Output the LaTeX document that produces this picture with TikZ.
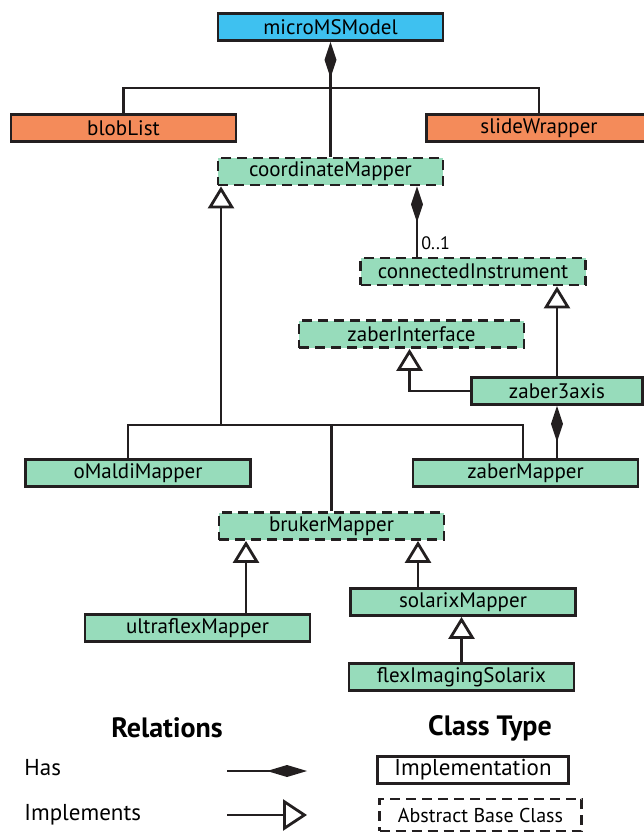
\documentclass[tikz,border=0pt]{standalone}
\usepackage{fontspec}
\setmainfont{PT Sans}
\usetikzlibrary{arrows.meta,calc}
\definecolor{modelblue}{HTML}{3EC1F0}
\definecolor{holderorange}{HTML}{F48B5A}
\definecolor{mapgreen}{HTML}{97DCBB}
\definecolor{inkblack}{HTML}{231F20}
\begin{document}
\begin{tikzpicture}[x=1pt,y=-1pt,line width=2.8pt,draw=inkblack,
	cls/.style={draw,fill=mapgreen,minimum width=225pt,minimum height=27pt,inner sep=0pt,font=\fontsize{21}{22}\selectfont},
	abc/.style={cls,dash pattern=on 10pt off 6pt},
	has/.style={-{Diamond[length=36pt,width=12pt]}},
	impl/.style={-{Triangle[open,length=22pt,width=26pt]}},
	head/.style={font=\fontsize{28}{30}\selectfont\bfseries},
	legtext/.style={font=\fontsize{23}{24}\selectfont,anchor=west,inner sep=0pt}]
\useasboundingbox (0,0) rectangle (643,835);
\node [cls,fill=modelblue] (microMSModel) at (330.5,27) {microMSModel};
\node [cls,fill=holderorange] (blobList) at (123.5,128) {blobList};
\node [cls,fill=holderorange] (slideWrapper) at (539,128) {slideWrapper};
\node [abc] (coordinateMapper) at (330.5,171.5) {coordinateMapper};
\node [abc] (connectedInstrument) at (473,271.5) {connectedInstrument};
\node [abc] (zaberInterface) at (411.5,334) {zaberInterface};
\node [cls,minimum width=171pt] (zaber3axis) at (557,391) {zaber3axis};
\node [cls] (oMaldiMapper) at (138,473) {oMaldiMapper};
\node [cls] (zaberMapper) at (525.5,473) {zaberMapper};
\node [abc] (brukerMapper) at (331.5,526) {brukerMapper};
\node [cls] (ultraflexMapper) at (197.5,628) {ultraflexMapper};
\node [cls] (solarixMapper) at (463,602) {solarixMapper};
\node [cls] (flexImagingSolarix) at (461.5,677) {flexImagingSolarix};
\coordinate (hasJoin) at (330.5,88);
\coordinate (implJoin) at (221,425);
\draw [has] (coordinateMapper) -- (microMSModel) ;
\draw (blobList.north) |- (hasJoin) -| (slideWrapper.north) ;
\draw [has] ([xshift=-56pt]connectedInstrument.north) -- ([xshift=-56pt]connectedInstrument.north |- coordinateMapper.south)
	node [pos=0.19,anchor=west,inner sep=3pt,font=\fontsize{18}{20}\selectfont] {0..1} ;
\draw [impl] (implJoin) -- (implJoin |- coordinateMapper.south) ;
\draw ([xshift=-10pt]oMaldiMapper.north) |- (implJoin) -| ([xshift=-2.5pt]zaberMapper.north) ;
\draw (brukerMapper.north) -- (brukerMapper.north |- implJoin) ;
\draw [impl] (zaber3axis.north) -- (zaber3axis.north |- connectedInstrument.south) ;
\draw [impl] (zaber3axis.west) -| ([xshift=-2pt]zaberInterface.south) ;
\draw [has] (zaber3axis.south |- zaberMapper.north) -- (zaber3axis.south) ;
\draw [impl] ([xshift=48.5pt]ultraflexMapper.north) -- ([xshift=48.5pt]ultraflexMapper.north |- brukerMapper.south) ;
\draw [impl] ([xshift=-45pt]solarixMapper.north) -- ([xshift=-45pt]solarixMapper.north |- brukerMapper.south) ;
\draw [impl] (flexImagingSolarix.north) -- (flexImagingSolarix.north |- solarixMapper.south) ;
% legend
\node [head] (relations) at (167,728) {Relations};
\node [head] (classType) at (490,728) {Class Type};
\node [legtext] (hasText) at (23,768) {Has};
\node [legtext] (implText) at (23,815) {Implements};
\coordinate (hasFrom) at (227,771);
\coordinate (hasTo) at (307,771);
\coordinate (implFrom) at (227,815);
\coordinate (implTo) at (307,815);
\draw [-{Diamond[length=40pt,width=12pt]}] (hasFrom) -- (hasTo) ;
\draw [-{Triangle[open,length=24pt,width=31pt]}] (implFrom) -- (implTo) ;
\node [cls,fill=none,minimum width=191pt,font=\fontsize{23}{24}\selectfont] (implBox) at (473,770) {Implementation};
\node [abc,fill=none,minimum width=202pt,minimum height=32pt,font=\fontsize{20}{22}\selectfont] (abcBox) at (480.5,815) {Abstract Base Class};
\end{tikzpicture}
\end{document}
